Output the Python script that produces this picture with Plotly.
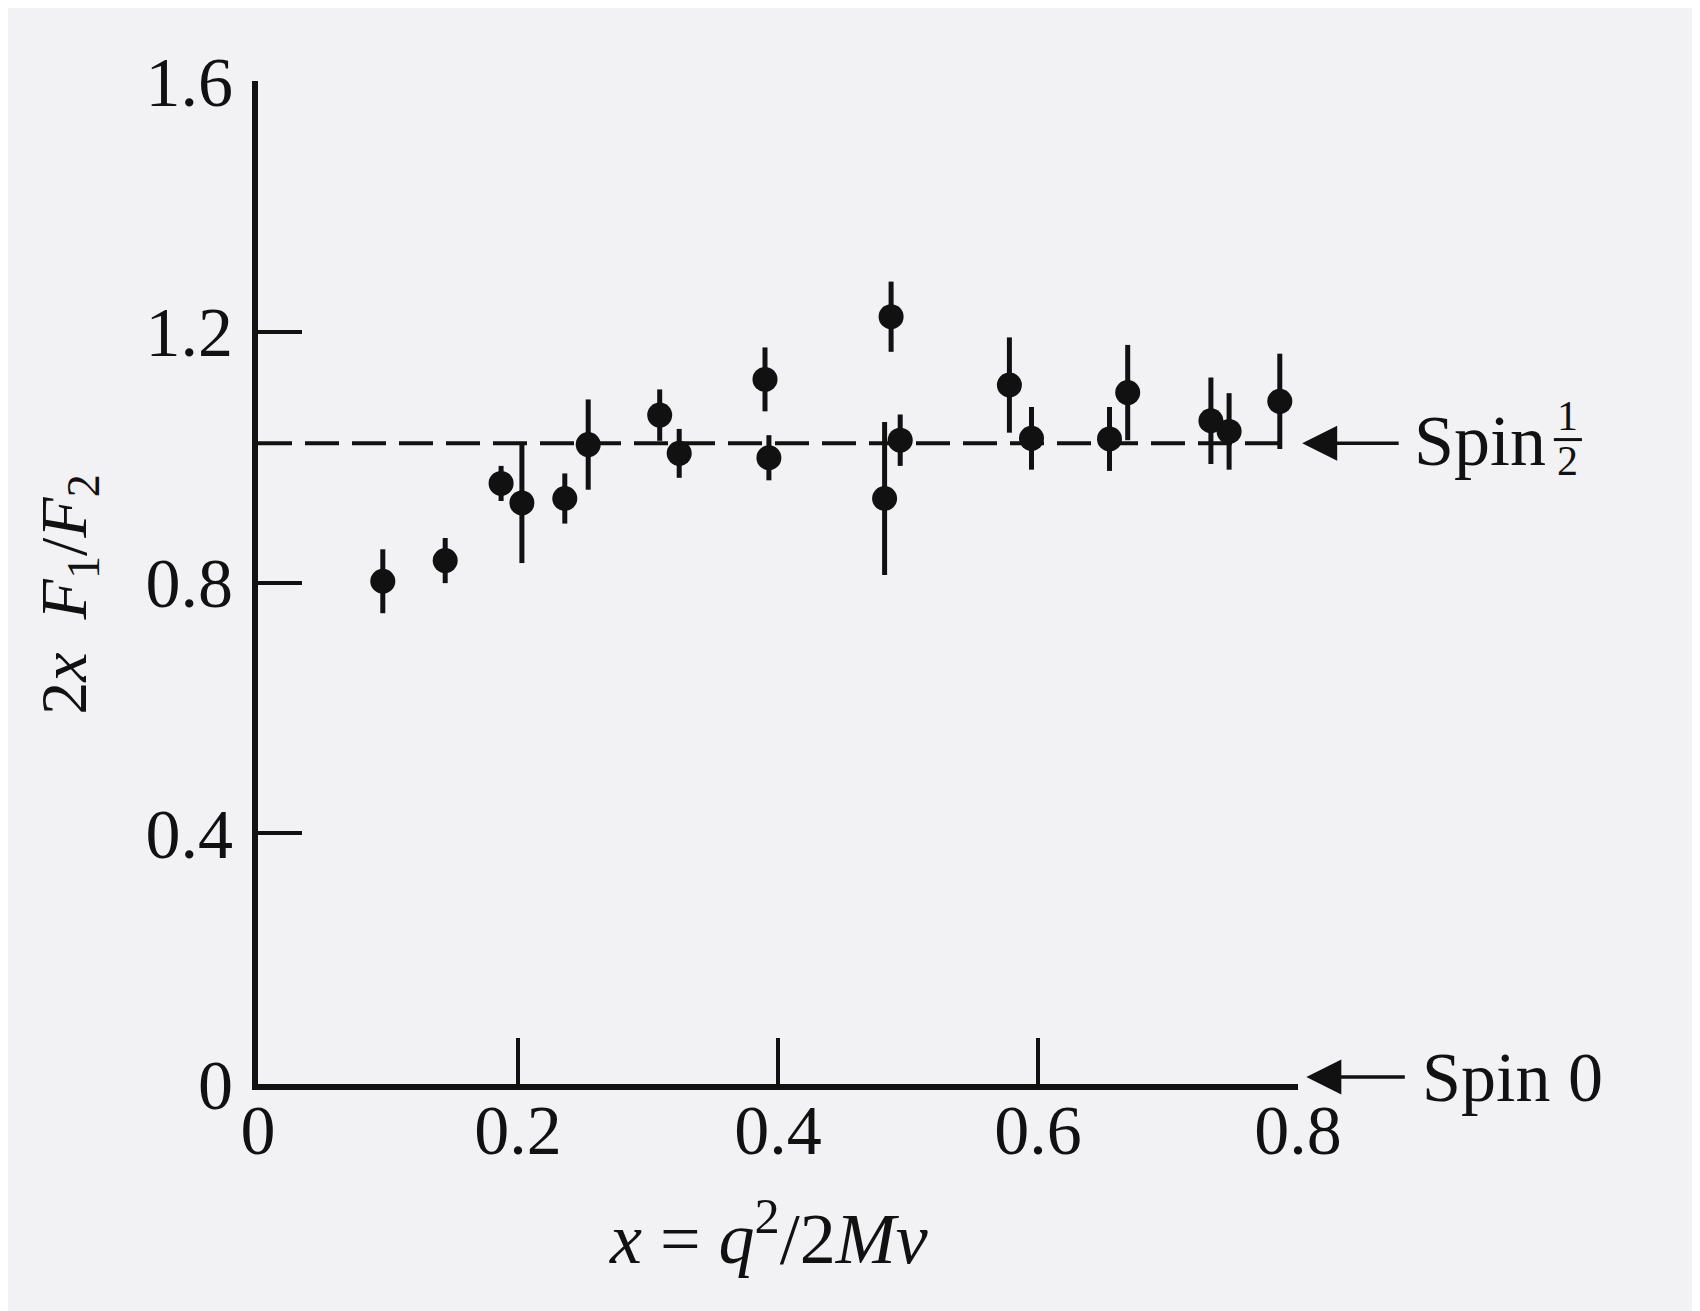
import plotly.graph_objects as go

x_vals = [0.096, 0.144, 0.187, 0.203, 0.236, 0.254, 0.309, 0.324, 0.390, 0.393,
          0.482, 0.487, 0.494, 0.578, 0.595, 0.655, 0.669, 0.733, 0.747, 0.786]
ratio = [0.802, 0.835, 0.958, 0.927, 0.934, 1.020, 1.067, 1.006, 1.124, 0.999,
         0.934, 1.224, 1.027, 1.115, 1.030, 1.029, 1.103, 1.058, 1.041, 1.089]
ratio_err = [0.051, 0.036, 0.028, 0.096, 0.040, 0.072, 0.041, 0.039, 0.051, 0.036,
             0.122, 0.056, 0.041, 0.076, 0.050, 0.051, 0.076, 0.069, 0.061, 0.076]

# spin-1/2 expectation line (as drawn in the figure)
spin_half_x = [0.0, 0.786]
spin_half_y = [1.022, 1.022]
spin_zero_y = 0.0

x_ticks = [0, 0.2, 0.4, 0.6, 0.8]
x_labels = ["0", "0.2", "0.4", "0.6", "0.8"]
y_ticks = [0, 0.4, 0.8, 1.2, 1.6]
y_labels = ["0", "0.4", "0.8", "1.2", "1.6"]

serif = "Liberation Serif"
ink = "#111111"

fig = go.Figure()

fig.add_trace(go.Scatter(
    x=spin_half_x, y=spin_half_y, mode="lines",
    line=dict(color=ink, width=4, dash="34px,13px"),
    hoverinfo="skip", showlegend=False
))

fig.add_trace(go.Scatter(
    x=x_vals, y=ratio, mode="markers",
    marker=dict(color=ink, size=25, line=dict(width=0)),
    error_y=dict(type="data", array=ratio_err, visible=True,
                 color=ink, thickness=5, width=0),
    cliponaxis=False, showlegend=False
))

fig.update_xaxes(
    range=[0, 0.8], showgrid=False, zeroline=False,
    showline=True, linecolor=ink, linewidth=6,
    ticks="inside", ticklen=46, tickwidth=4, tickcolor=ink,
    tickvals=x_ticks, ticktext=x_labels, ticklabelstandoff=-20,
    tickfont=dict(family=serif, size=70, color=ink)
)
fig.update_yaxes(
    range=[0, 1.6], showgrid=False, zeroline=False,
    showline=True, linecolor=ink, linewidth=6,
    ticks="inside", ticklen=44, tickwidth=4, tickcolor=ink,
    tickvals=y_ticks, ticktext=y_labels, ticklabelstandoff=5,
    tickfont=dict(family=serif, size=70, color=ink)
)

half = spin_half_y[0]
annos = [
    # axis titles
    dict(x=0.491, y=-0.149, xref="paper", yref="paper",
         xanchor="center", yanchor="middle",
         text="<i>x</i> = <i>q</i><sup>2</sup>/2<i>Mν</i>",
         showarrow=False, font=dict(family=serif, size=72, color=ink)),
    dict(x=-0.183, y=0.78, xref="paper", yref="y", textangle=-90,
         xanchor="center", yanchor="middle",
         text="2<i>x  F</i><sub>1</sub>/<i>F</i><sub>2</sub>",
         showarrow=False, font=dict(family=serif, size=66, color=ink)),
    # arrows
    dict(x=1.004, y=half, xref="paper", yref="y", ax=98, ay=0,
         axref="pixel", ayref="pixel",
         text="", showarrow=True, arrowhead=2, arrowsize=2.0, arrowwidth=3.5,
         arrowcolor=ink),
    dict(x=1.008, y=spin_zero_y + 0.011, xref="paper", yref="y", ax=100, ay=0,
         axref="pixel", ayref="pixel",
         text="", showarrow=True, arrowhead=2, arrowsize=2.0, arrowwidth=3.5,
         arrowcolor=ink),
    # labels
    dict(x=1.110, y=half + 0.003, xref="paper", yref="y", xanchor="left", yanchor="middle",
         text="Spin", showarrow=False, font=dict(family=serif, size=72, color=ink)),
    dict(x=1.259, y=half + 0.043, xref="paper", yref="y", xanchor="center", yanchor="middle",
         text="1", showarrow=False, font=dict(family=serif, size=42, color=ink)),
    dict(x=1.259, y=half - 0.028, xref="paper", yref="y", xanchor="center", yanchor="middle",
         text="2", showarrow=False, font=dict(family=serif, size=42, color=ink)),
    dict(x=1.117, y=spin_zero_y + 0.011, xref="paper", yref="y",
         xanchor="left", yanchor="middle",
         text="Spin 0", showarrow=False, font=dict(family=serif, size=70, color=ink)),
]

fig.update_layout(
    width=1700, height=1311, autosize=False,
    margin=dict(l=250, r=410, t=73, b=235),
    paper_bgcolor="#f2f2f4", plot_bgcolor="#f2f2f4",
    annotations=annos, showlegend=False,
    # fraction bar of the 1/2
    shapes=[dict(type="line", xref="paper", yref="y",
                 x0=1.246, x1=1.273, y0=half + 0.006, y1=half + 0.006,
                 line=dict(color=ink, width=3))]
)

fig.write_html("out.html")
